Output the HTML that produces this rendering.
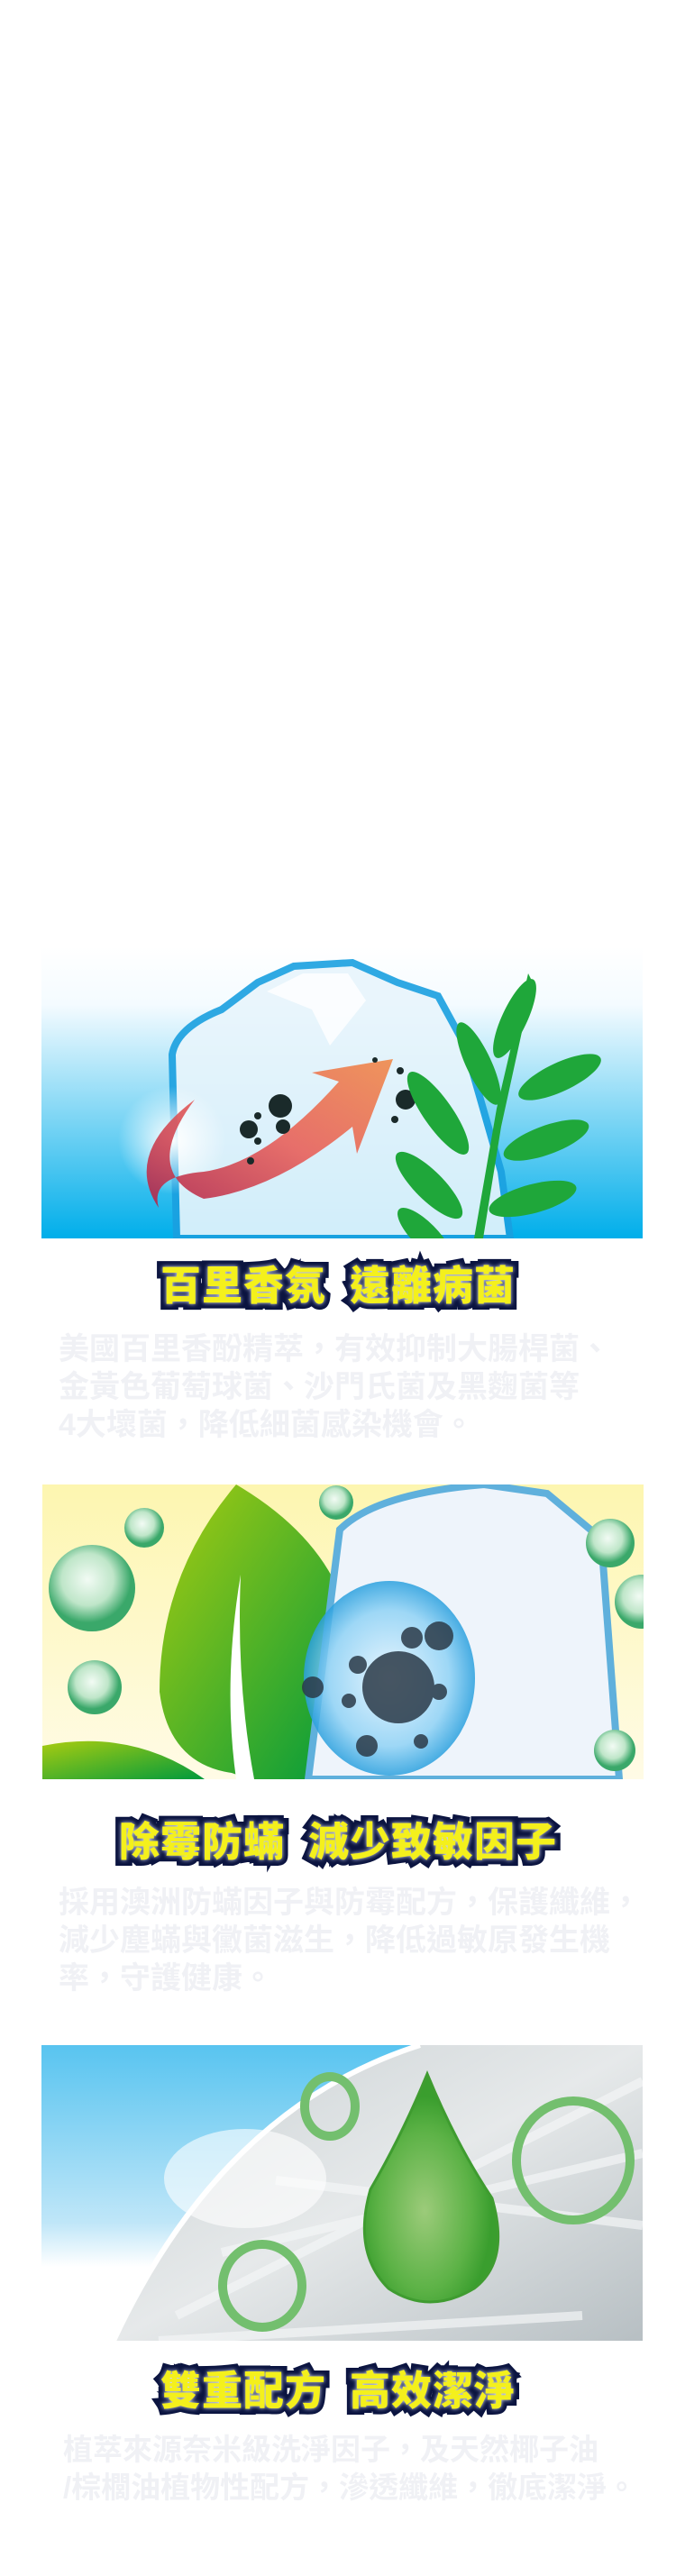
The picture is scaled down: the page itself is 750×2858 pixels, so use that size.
<!DOCTYPE html>
<html><head><meta charset="utf-8">
<style>
html,body{margin:0;padding:0;background:#fff;}
body{width:750px;height:2858px;position:relative;overflow:hidden;font-family:"Liberation Sans","Noto Sans CJK TC",sans-serif;}
.img{position:absolute;left:46px;width:667px;overflow:hidden;}
.title{position:absolute;left:0;width:750px;text-align:center;font-family:"Liberation Sans","Noto Sans CJK TC",sans-serif;font-weight:900;font-size:45px;line-height:50px;color:#f4f01c;-webkit-text-stroke:13px #0b1440;paint-order:stroke fill;letter-spacing:1px;text-shadow:0 0 5px #dfe6ff;}
.title span{display:inline-block;width:26px;}
.para{position:absolute;left:65px;width:640px;font-size:34px;line-height:42px;color:#f0f1f5;font-weight:700;font-family:"Liberation Sans","Noto Sans CJK TC",sans-serif;white-space:nowrap;}
</style></head><body>

<div class="img" style="top:1050px;height:324px;">
<svg width="667" height="324" viewBox="0 0 667 324">
<defs>
<linearGradient id="g1" x1="0" y1="0" x2="0" y2="1"><stop offset="0" stop-color="#ffffff"/><stop offset="0.2" stop-color="#f4fbff"/><stop offset="1" stop-color="#00aeea"/></linearGradient>
<linearGradient id="ar" x1="0" y1="1" x2="1" y2="0"><stop offset="0" stop-color="#b0244a"/><stop offset="0.5" stop-color="#e8605a"/><stop offset="1" stop-color="#f08a4a"/></linearGradient>
<radialGradient id="sp"><stop offset="0" stop-color="#fff"/><stop offset="1" stop-color="#fff" stop-opacity="0"/></radialGradient>
</defs>
<rect width="667" height="324" fill="url(#g1)"/>
<path d="M150 324 L145 120 Q150 90 200 70 L240 40 L280 22 L345 18 L395 40 L440 55 L470 110 L510 250 L520 324 Z" fill="#e8f5fc" stroke="#1aa0e0" stroke-width="8" opacity="0.9"/>
<path d="M250 50 L290 30 L340 30 L360 60 L320 110 L300 70 Z" fill="#fff" opacity="0.8"/>
<ellipse cx="145" cy="215" rx="60" ry="60" fill="url(#sp)"/>
<path d="M130 290 Q90 230 170 170 Q110 250 180 280 Q260 270 345 200 L350 230 L390 125 L300 140 L330 150 Q250 240 180 250 Q120 255 130 290 Z" fill="url(#ar)" opacity="0.9"/>
<g fill="#1a2a2a"><circle cx="265" cy="177" r="13"/><circle cx="230" cy="203" r="10"/><circle cx="268" cy="200" r="8"/><circle cx="240" cy="216" r="4"/><circle cx="232" cy="238" r="4"/><circle cx="240" cy="188" r="4"/><circle cx="404" cy="170" r="11"/><circle cx="398" cy="138" r="4"/><circle cx="392" cy="192" r="4"/><circle cx="370" cy="126" r="3"/></g>
<g fill="#1fa73a">
<path d="M480 324 L505 180 L540 30 L545 40 L510 200 L490 324Z"/>
<ellipse cx="525" cy="80" rx="14" ry="48" transform="rotate(25 525 80)"/>
<ellipse cx="485" cy="130" rx="14" ry="50" transform="rotate(-25 485 130)"/>
<ellipse cx="440" cy="185" rx="16" ry="55" transform="rotate(-35 440 185)"/>
<ellipse cx="575" cy="145" rx="16" ry="50" transform="rotate(65 575 145)"/>
<ellipse cx="560" cy="215" rx="16" ry="50" transform="rotate(70 560 215)"/>
<ellipse cx="430" cy="265" rx="16" ry="50" transform="rotate(-45 430 265)"/>
<ellipse cx="545" cy="280" rx="16" ry="50" transform="rotate(75 545 280)"/>
<ellipse cx="425" cy="320" rx="14" ry="40" transform="rotate(-45 425 320)"/>
</g>
</svg></div>
<div class="title" style="top:1402px;">百里香氛<span></span>遠離病菌</div>
<div class="para" style="top:1476px;">美國百里香酚精萃，有效抑制大腸桿菌、<br>金黃色葡萄球菌、沙門氏菌及黑麴菌等<br>4大壞菌，降低細菌感染機會。</div>

<div class="img" style="top:1647px;height:327px;left:47px;">
<svg width="667" height="327" viewBox="0 0 667 327">
<defs>
<linearGradient id="g2" x1="0" y1="0" x2="0" y2="1"><stop offset="0" stop-color="#fdf6b0"/><stop offset="1" stop-color="#fffbe6"/></linearGradient>
<linearGradient id="lf" x1="0" y1="0" x2="1" y2="1"><stop offset="0" stop-color="#a8cc10"/><stop offset="1" stop-color="#009a3c"/></linearGradient>
<radialGradient id="bb" cx="0.45" cy="0.4"><stop offset="0" stop-color="#f2fbf4"/><stop offset="0.6" stop-color="#bfe6c9"/><stop offset="1" stop-color="#3aa86a"/></radialGradient>
<radialGradient id="bl" cx="0.5" cy="0.5"><stop offset="0" stop-color="#e8f6ff"/><stop offset="0.7" stop-color="#8fd2f5"/><stop offset="1" stop-color="#2aa0de"/></radialGradient>
</defs>
<rect width="667" height="327" fill="url(#g2)"/>
<path d="M215 0 Q130 100 130 230 Q140 310 210 320 L230 327 L300 327 Q360 260 330 120 Q300 50 215 0Z" fill="url(#lf)"/>
<path d="M220 100 Q200 220 215 327 L235 327 Q215 220 220 100Z" fill="#fff"/>
<path d="M0 290 Q100 270 180 327 L0 327Z" fill="url(#lf)"/>
<path d="M295 327 L330 50 Q370 10 490 0 L560 10 L620 60 L640 327Z" fill="#eef4fb" stroke="#5fb0dc" stroke-width="8"/>
<ellipse cx="385" cy="215" rx="95" ry="108" fill="url(#bl)" opacity="0.85"/>
<g fill="#2b3a48" opacity="0.85"><circle cx="395" cy="225" r="40"/><circle cx="440" cy="168" r="16"/><circle cx="410" cy="170" r="12"/><circle cx="350" cy="200" r="10"/><circle cx="340" cy="240" r="8"/><circle cx="360" cy="290" r="12"/><circle cx="420" cy="285" r="8"/><circle cx="440" cy="230" r="9"/><circle cx="300" cy="225" r="12"/></g>
<g fill="url(#bb)"><circle cx="55" cy="115" r="48"/><circle cx="113" cy="48" r="22"/><circle cx="326" cy="20" r="19"/><circle cx="58" cy="225" r="30"/><circle cx="630" cy="65" r="27"/><circle cx="665" cy="130" r="30"/><circle cx="635" cy="295" r="23"/></g>
</svg></div>
<div class="title" style="top:2019px;">除霉防蟎<span></span>減少致敏因子</div>
<div class="para" style="top:2090px;">採用澳洲防蟎因子與防霉配方，保護纖維，<br>減少塵蟎與黴菌滋生，降低過敏原發生機<br>率，守護健康。</div>

<div class="img" style="top:2269px;height:328px;">
<svg width="667" height="328" viewBox="0 0 667 328">
<defs>
<linearGradient id="g3" x1="0" y1="0" x2="0" y2="1"><stop offset="0" stop-color="#58c4f0"/><stop offset="0.6" stop-color="#bfe6f8"/><stop offset="0.75" stop-color="#ffffff"/></linearGradient>
<linearGradient id="fb" x1="0" y1="0" x2="1" y2="1"><stop offset="0" stop-color="#c9d0d3"/><stop offset="0.5" stop-color="#e6e9ea"/><stop offset="1" stop-color="#b7bfc3"/></linearGradient>
<radialGradient id="dr" cx="0.45" cy="0.6"><stop offset="0" stop-color="#9ccb7a"/><stop offset="0.7" stop-color="#5cb246"/><stop offset="1" stop-color="#3a9e2e"/></radialGradient>
</defs>
<rect width="667" height="328" fill="url(#g3)"/>
<path d="M420 0 Q200 70 80 328 L667 328 L667 0Z" fill="url(#fb)"/>
<path d="M420 0 Q200 70 80 328" fill="none" stroke="#fff" stroke-width="6"/>
<g stroke="#f4f6f7" stroke-width="10" opacity="0.7"><line x1="150" y1="300" x2="667" y2="40"/><line x1="200" y1="230" x2="667" y2="120"/><line x1="260" y1="150" x2="667" y2="200"/><line x1="130" y1="328" x2="600" y2="300"/></g>
<ellipse cx="226" cy="148" rx="90" ry="55" fill="#fff" opacity="0.6"/>
<path d="M428 32 Q460 110 500 170 Q520 240 480 270 Q430 300 385 270 Q345 230 365 160 Q400 100 428 32Z" fill="url(#dr)" stroke="#3f9c30" stroke-width="3"/>
<g fill="none" stroke="#73bf6e" stroke-width="10"><ellipse cx="320" cy="68" rx="28" ry="33"/><ellipse cx="245" cy="267" rx="44" ry="46"/><ellipse cx="590" cy="128" rx="63" ry="66"/></g>
</svg></div>
<div class="title" style="top:2628px;">雙重配方<span></span>高效潔淨</div>
<div class="para" style="top:2697px;left:70px;font-size:33px;">植萃來源奈米級洗淨因子，及天然椰子油<br>/棕櫚油植物性配方，滲透纖維，徹底潔淨。</div>

</body></html>
